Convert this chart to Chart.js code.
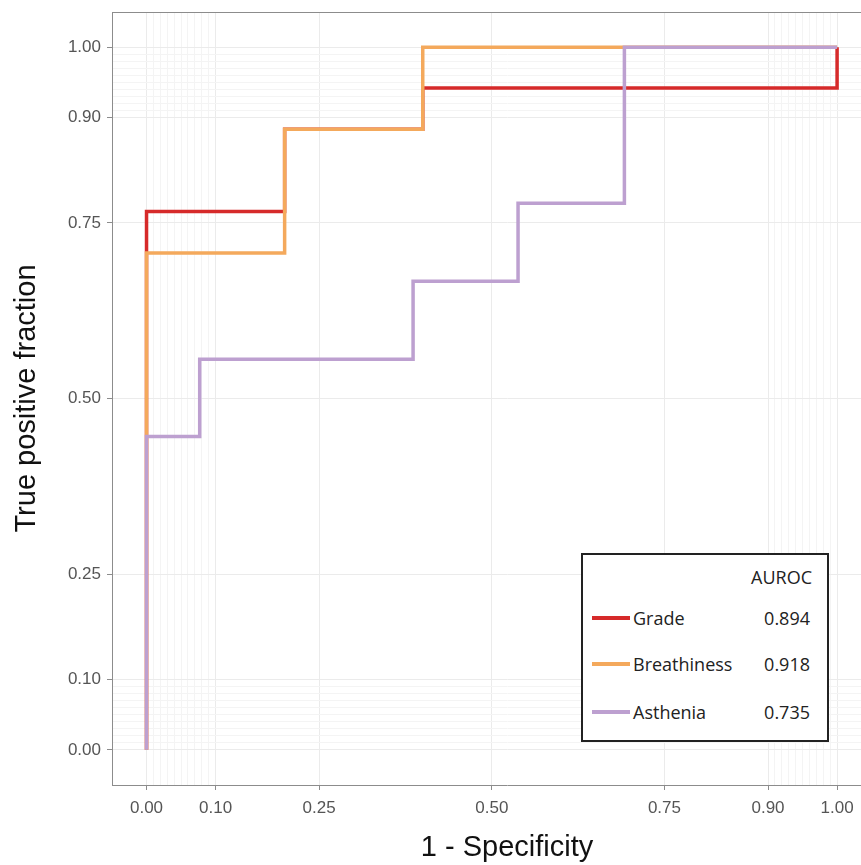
<!DOCTYPE html>
<html>
<head>
<meta charset="utf-8">
<script src="https://cdn.jsdelivr.net/npm/chart.js@4.4.1/dist/chart.umd.min.js"></script>
<style>
html,body{margin:0;padding:0;background:#fff;overflow:hidden;width:861px;height:865px;}
#wrap{position:relative;width:902px;height:865px;}
#legend{position:absolute;left:581px;top:553px;width:248px;height:189px;border:2px solid #222;box-sizing:border-box;background:#fff;font-family:'Open Sans',sans-serif;font-size:18px;color:#222;}
.row{position:absolute;left:0;right:0;height:24px;line-height:24px;white-space:nowrap;}
.swatch{position:absolute;left:9px;top:10px;width:38px;height:4px;}
.lab{position:absolute;left:50px;top:0;}
.val{position:absolute;right:17px;top:0;}
.head{position:absolute;right:15px;top:0;}
</style>
</head>
<body>
<div id="wrap">
<canvas id="c"></canvas>
<div id="legend"></div>
</div>
<script>
// ---- data ----
const fprGrade  = [0, 0, 0.2, 0.4, 1];
const tprGrade  = [0, 0.766, 0.883, 0.942, 1];
const fprBreath = [0, 0, 0.2, 0.4, 1];
const tprBreath = [0, 0.707, 0.883, 1, 1];
const fprAsth   = [0, 0, 0.077, 0.386, 0.538, 0.692, 1];
const tprAsth   = [0, 0.446, 0.556, 0.667, 0.778, 1, 1];

const seriesNames  = ['Grade', 'Breathiness', 'Asthenia'];
const aurocValues  = ['0.894', '0.918', '0.735'];
const legendHeader = 'AUROC';
const seriesColors = ['#d62a2a', '#f4a95c', '#bda0d0'];

const majorTicks = [0, 0.10, 0.25, 0.50, 0.75, 0.90, 1.00];
const tickLabels = ['0.00', '0.10', '0.25', '0.50', '0.75', '0.90', '1.00'];
const minorTicks = [0.01, 0.02, 0.03, 0.04, 0.05, 0.06, 0.07, 0.08, 0.09,
                    0.91, 0.92, 0.93, 0.94, 0.95, 0.96, 0.97, 0.98, 0.99];

const xTitle = '1 - Specificity';
const yTitle = 'True positive fraction';

// ---- helpers ----
const allTicks = majorTicks.concat(minorTicks).sort((a, b) => a - b);
const isMajor = v => majorTicks.some(m => Math.abs(m - v) < 1e-9);
const labelFor = v => {
  const i = majorTicks.findIndex(m => Math.abs(m - v) < 1e-9);
  return i >= 0 ? tickLabels[i] : '';
};
const pts = (xs, ys) => xs.map((x, i) => ({x: x, y: ys[i]}));

const series = [
  {fpr: fprGrade, tpr: tprGrade},
  {fpr: fprBreath, tpr: tprBreath},
  {fpr: fprAsth, tpr: tprAsth}
];

// later series drawn on top (lower order = drawn last in Chart.js)
const datasets = series.map((s, i) => ({
  label: seriesNames[i],
  data: pts(s.fpr, s.tpr),
  order: series.length - i,
  borderColor: seriesColors[i],
  backgroundColor: seriesColors[i],
  borderWidth: 3.5,
  stepped: 'before',
  pointRadius: 0,
  pointHoverRadius: 0,
  fill: false,
  borderJoinStyle: 'miter',
  borderCapStyle: 'butt'
}));

const gridColor = ctx => (ctx.tick && isMajor(ctx.tick.value)) ? '#ebebeb' : '#f4f4f4';
const tickColor = ctx => (ctx.tick && isMajor(ctx.tick.value)) ? '#8c8c8c' : 'rgba(0,0,0,0)';
const tickFont = {family: "'Liberation Sans', Arial, sans-serif", size: 17};
const titleFont = {family: "'Liberation Sans', Arial, sans-serif", size: 29};

const setTicks = s => { s.ticks = allTicks.map(v => ({value: v})); };
const noPad = s => { s.paddingTop = 0; s.paddingBottom = 0; s.paddingLeft = 0; s.paddingRight = 0; };

const panelBorder = {
  id: 'panelBorder',
  afterDraw(chart) {
    const a = chart.chartArea, ctx = chart.ctx;
    ctx.save();
    ctx.strokeStyle = '#8c8c8c';
    ctx.lineWidth = 1;
    ctx.beginPath();
    ctx.moveTo(a.left, a.top + 0.5);
    ctx.lineTo(a.right, a.top + 0.5);
    ctx.stroke();
    ctx.restore();
  }
};

new Chart(document.getElementById('c'), {
  type: 'line',
  data: {datasets: datasets},
  options: {
    responsive: true,
    maintainAspectRatio: false,
    animation: false,
    layout: {padding: {top: 12, left: 0, right: 0, bottom: 0}},
    plugins: {legend: {display: false}, tooltip: {enabled: false}},
    scales: {
      x: {
        type: 'linear', min: -0.05, max: 1.094,
        afterBuildTicks: setTicks,
        afterFit: s => { s.height = 80; noPad(s); },
        ticks: {autoSkip: false, maxRotation: 0, minRotation: 0, padding: 8, font: tickFont, color: '#555', callback: v => labelFor(v)},
        grid: {color: gridColor, tickColor: tickColor, tickLength: 5, lineWidth: 1},
        border: {color: '#8c8c8c', width: 1},
        title: {display: true, text: xTitle, font: titleFont, color: '#111', padding: {top: 0, bottom: 0}}
      },
      y: {
        type: 'linear', min: -0.05, max: 1.05,
        afterBuildTicks: setTicks,
        afterFit: s => { s.width = 112; noPad(s); },
        ticks: {autoSkip: false, padding: 6, font: tickFont, color: '#555', callback: v => labelFor(v)},
        grid: {color: gridColor, tickColor: tickColor, tickLength: 5, lineWidth: 1},
        border: {color: '#8c8c8c', width: 1},
        title: {display: true, text: yTitle, font: titleFont, color: '#111', padding: {top: 10, bottom: 0}}
      }
    }
  },
  plugins: [panelBorder]
});

// ---- legend box (HTML text) ----
const leg = document.getElementById('legend');
const rowTops = [51, 97, 145];
let html = '<div class="row" style="top:10px"><span class="head">' + legendHeader + '</span></div>';
seriesNames.forEach((n, i) => {
  html += '<div class="row" style="top:' + rowTops[i] + 'px">' +
          '<span class="swatch" style="background:' + seriesColors[i] + '"></span>' +
          '<span class="lab">' + n + '</span>' +
          '<span class="val">' + aurocValues[i] + '</span></div>';
});
leg.innerHTML = html;
</script>
</body>
</html>
